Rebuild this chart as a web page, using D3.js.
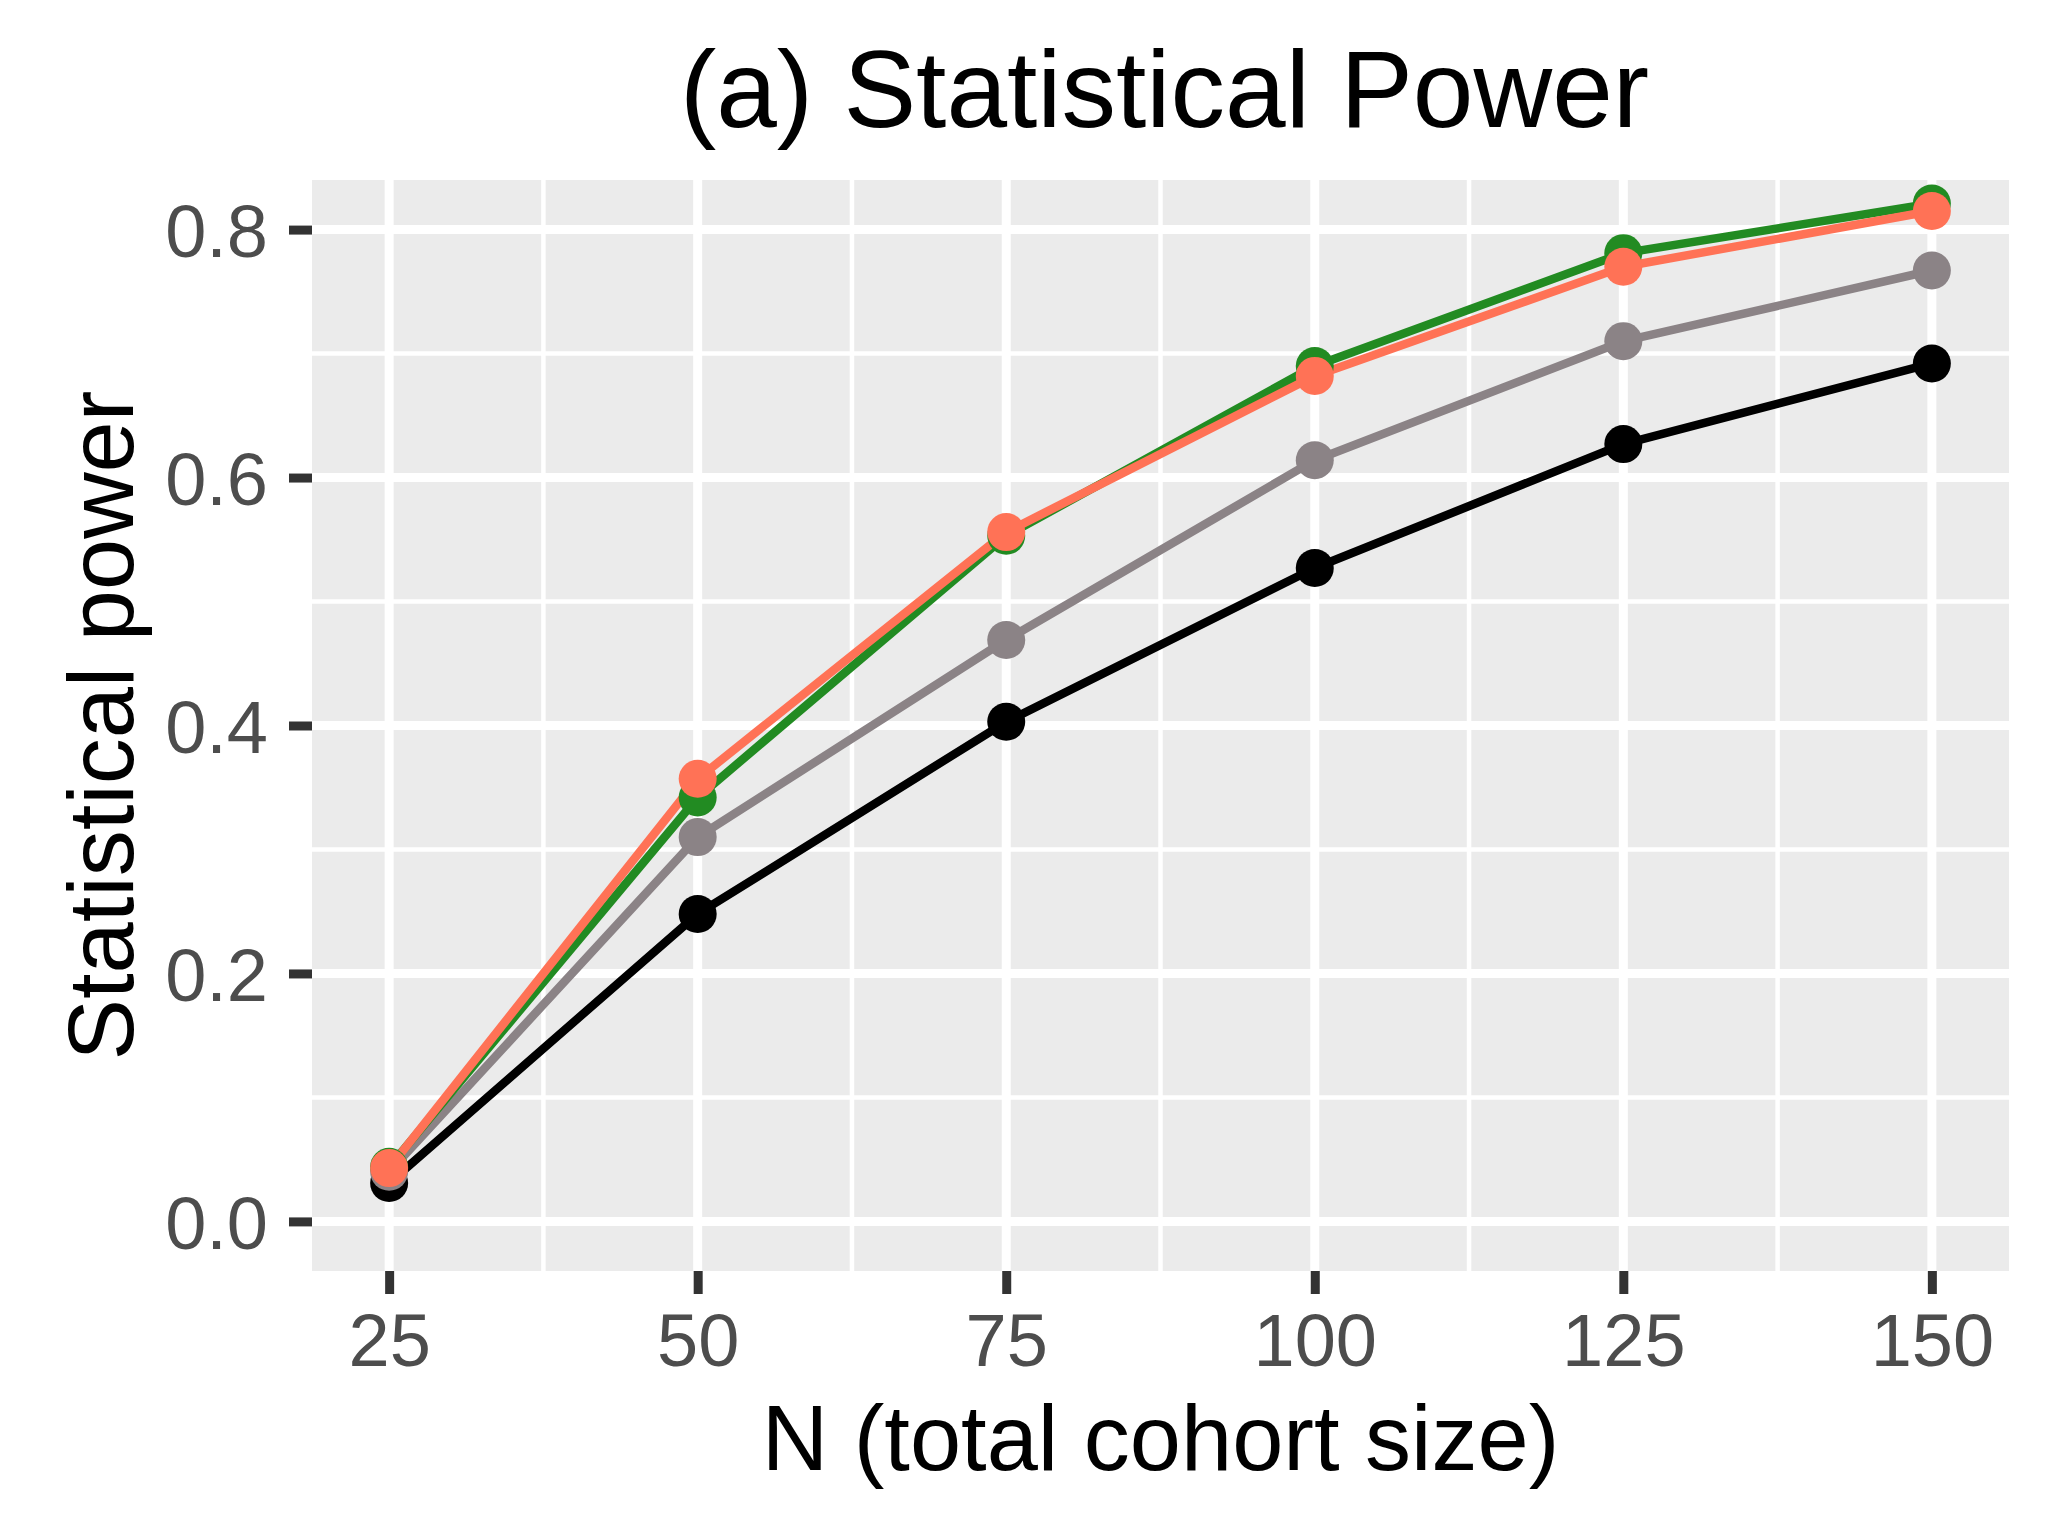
<!DOCTYPE html>
<html>
<head>
<meta charset="utf-8">
<script src="https://cdn.jsdelivr.net/npm/d3@7"></script>
<style>
  body { margin: 0; background: #fff; }
  text { font-family: "Liberation Sans", Arial, Helvetica, sans-serif; }
</style>
</head>
<body>
<div id="chart"></div>
<script>
// cohort sizes and power per method
var cohortSizes = [25, 50, 75, 100, 125, 150];
var powerBlack  = [0.031, 0.248, 0.403, 0.527, 0.627, 0.692];
var powerGray   = [0.040, 0.310, 0.469, 0.614, 0.710, 0.767];
var powerGreen  = [0.044, 0.342, 0.553, 0.690, 0.781, 0.821];
var powerCoral  = [0.043, 0.357, 0.556, 0.682, 0.770, 0.815];

var xTicks = [25, 50, 75, 100, 125, 150];
var yTicks = [0, 0.2, 0.4, 0.6, 0.8];
var xMinor = [37.5, 62.5, 87.5, 112.5, 137.5];
var yMinor = [0.1, 0.3, 0.5, 0.7];

var series = [
  { key: "black", color: "#000000", values: powerBlack },
  { key: "gray",  color: "#8B8386", values: powerGray },
  { key: "green", color: "#228B22", values: powerGreen },
  { key: "coral", color: "#FF7256", values: powerCoral }
];

var width = 2055,
    height = 1535,
    panel = { left: 312, right: 2009, top: 180, bottom: 1271 };

var svg = d3.select("#chart").append("svg")
    .attr("width", width)
    .attr("height", height);

var x = d3.scaleLinear()
    .domain([18.75, 156.25])
    .range([panel.left, panel.right]);

var y = d3.scaleLinear()
    .domain([-0.04, 0.84])
    .range([panel.bottom, panel.top]);

// panel background
svg.append("rect")
    .attr("x", panel.left)
    .attr("y", panel.top)
    .attr("width", panel.right - panel.left)
    .attr("height", panel.bottom - panel.top)
    .style("fill", "#EBEBEB");

var grid = svg.append("g");

// minor grid first, then major
grid.selectAll(".ymin").data(yMinor).enter().append("line")
    .attr("x1", panel.left).attr("x2", panel.right)
    .attr("y1", function(d) { return y(d); })
    .attr("y2", function(d) { return y(d); })
    .style("stroke", "#fff").style("stroke-width", 4.5);

grid.selectAll(".xmin").data(xMinor).enter().append("line")
    .attr("y1", panel.top).attr("y2", panel.bottom)
    .attr("x1", function(d) { return x(d); })
    .attr("x2", function(d) { return x(d); })
    .style("stroke", "#fff").style("stroke-width", 4.5);

grid.selectAll(".ymaj").data(yTicks).enter().append("line")
    .attr("x1", panel.left).attr("x2", panel.right)
    .attr("y1", function(d) { return y(d); })
    .attr("y2", function(d) { return y(d); })
    .style("stroke", "#fff").style("stroke-width", 9);

grid.selectAll(".xmaj").data(xTicks).enter().append("line")
    .attr("y1", panel.top).attr("y2", panel.bottom)
    .attr("x1", function(d) { return x(d); })
    .attr("x2", function(d) { return x(d); })
    .style("stroke", "#fff").style("stroke-width", 9);

// lines, then points
var line = d3.line()
    .x(function(d, i) { return x(cohortSizes[i]); })
    .y(function(d) { return y(d); });

svg.append("g").selectAll("path")
    .data(series)
  .enter().append("path")
    .attr("d", function(s) { return line(s.values); })
    .style("fill", "none")
    .style("stroke", function(s) { return s.color; })
    .style("stroke-width", 8.5)
    .style("stroke-linejoin", "round");

series.forEach(function(s) {
  svg.append("g").selectAll("circle")
      .data(s.values)
    .enter().append("circle")
      .attr("cx", function(d, i) { return x(cohortSizes[i]); })
      .attr("cy", function(d) { return y(d); })
      .attr("r", 19)
      .style("fill", s.color);
});

// axes
var xAxis = svg.append("g")
    .attr("transform", "translate(0," + panel.bottom + ")")
    .call(d3.axisBottom(x).tickValues(xTicks).tickSize(23).tickPadding(19)
      .tickFormat(d3.format("d")));

var yAxis = svg.append("g")
    .attr("transform", "translate(" + panel.left + ",0)")
    .call(d3.axisLeft(y).tickValues(yTicks).tickSize(23).tickPadding(21)
      .tickFormat(d3.format(".1f")));

[xAxis, yAxis].forEach(function(ax) {
  ax.select(".domain").remove();
  ax.selectAll(".tick line").style("stroke", "#333333").style("stroke-width", 9);
  ax.selectAll(".tick text")
      .style("fill", "#4D4D4D")
      .style("font-size", "74px")
      .style("font-family", "Liberation Sans, Arial, sans-serif");
});
yAxis.selectAll(".tick text").attr("dy", "0.36em");

var midX = (panel.left + panel.right) / 2;

svg.append("text")
    .attr("x", midX + 4)
    .attr("y", 127)
    .attr("text-anchor", "middle")
    .style("font-size", "109px")
    .style("fill", "#000")
    .text("(a) Statistical Power");

svg.append("text")
    .attr("x", midX)
    .attr("y", 1470)
    .attr("text-anchor", "middle")
    .style("font-size", "92px")
    .style("fill", "#000")
    .text("N (total cohort size)");

svg.append("text")
    .attr("transform", "translate(133," + ((panel.top + panel.bottom) / 2) + ") rotate(-90)")
    .attr("text-anchor", "middle")
    .style("font-size", "92px")
    .style("fill", "#000")
    .text("Statistical power");
</script>
</body>
</html>
